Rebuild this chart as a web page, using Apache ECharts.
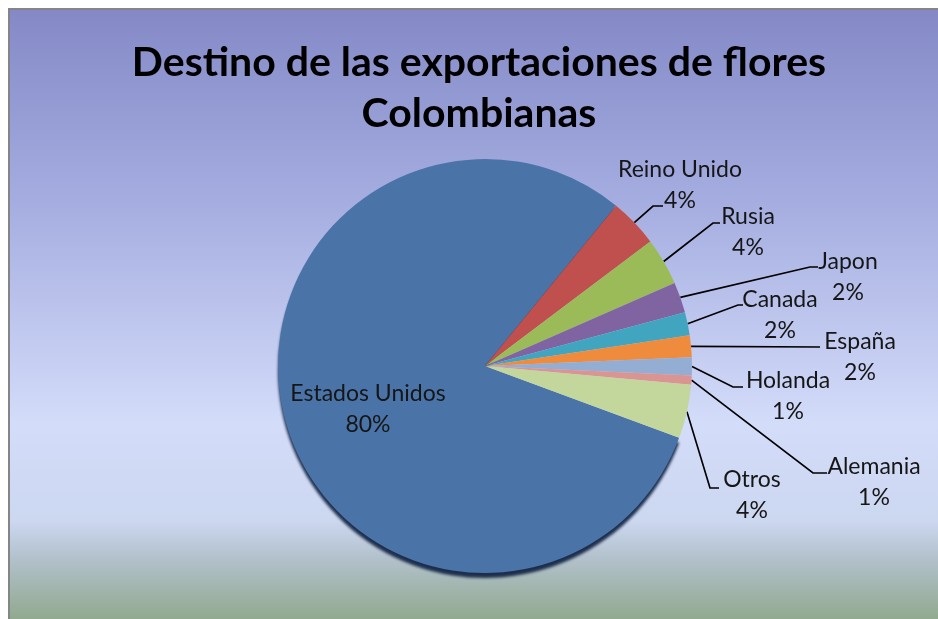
<!DOCTYPE html>
<html>
<head>
<meta charset="utf-8">
<script src="https://cdn.jsdelivr.net/npm/echarts@6/dist/echarts.min.js"></script>
<style>
html,body{margin:0;padding:0;background:#fff;}
#chart{width:938px;height:619px;}
</style>
</head>
<body>
<div id="chart"></div>
<script>
// ---- data ----
var categories = ['Estados Unidos', 'Reino Unido', 'Rusia', 'Japon', 'Canada', 'España', 'Holanda', 'Alemania', 'Otros'];
var shares = [80.2, 3.8, 3.7, 2.4, 1.8, 1.7, 1.4, 0.7, 4.2];
var sliceColors = ['#4a74a8', '#c0504d', '#9bbb59', '#8064a2', '#42a5bf', '#ee8b3d', '#94add3', '#da9593', '#c3d69b'];

// label block centres and leader-line elbows (layout only)
var labelCenters = [[368,409],[680,185],[748,232],[848,277],[780,315],[860,357],[788,396],[874,482],[752,495]];
var leaderElbows = [
  null,
  [[653,206],[663,206]],
  [[713,223],[720,223]],
  [[810,267],[818,267]],
  [[738,305],[743,305]],
  [[820,347]],
  [[733,387],[743,387]],
  [[813,473],[827,473]],
  [[710,488],[719,488]]
];

var chart = echarts.init(document.getElementById('chart'), null, {renderer:'canvas'});

var pieData = categories.map(function (name, i) {
  var item = { name: name, value: shares[i], itemStyle: { color: sliceColors[i] } };
  if (name === 'Estados Unidos') {
    item.label = { position: 'inside' };
    item.labelLine = { show: false };
    item.itemStyle.shadowColor = 'rgba(20,38,70,0.95)';
    item.itemStyle.shadowBlur = 3;
    item.itemStyle.shadowOffsetY = 5;
  }
  return item;
});

var option = {
  backgroundColor: '#ffffff',
  animation: false,
  graphic: [
    {
      type: 'rect', z: -10, silent: true,
      shape: { x: 8, y: 8, width: 930, height: 611 },
      style: {
        fill: new echarts.graphic.LinearGradient(0, 0, 0, 1, [
          { offset: 0, color: '#8489c6' },
          { offset: 0.3, color: '#a3abdf' },
          { offset: 0.68, color: '#d3dcf9' },
          { offset: 0.84, color: '#ccd7f0' },
          { offset: 0.9, color: '#b3c1cc' },
          { offset: 1, color: '#91a98f' }
        ])
      }
    },
    { type: 'line', z: -9, silent: true, shape: { x1: 8, y1: 9, x2: 938, y2: 9 }, style: { stroke: '#858585', lineWidth: 2 } },
    { type: 'line', z: -9, silent: true, shape: { x1: 9, y1: 8, x2: 9, y2: 619 }, style: { stroke: '#858585', lineWidth: 2 } }
  ],
  title: {
    text: 'Destino de las exportaciones de flores\nColombianas',
    left: 479,
    top: 37,
    padding: 0,
    textAlign: 'center',
    textStyle: {
      fontFamily: 'Lato',
      fontWeight: 'bold',
      fontSize: 41,
      lineHeight: 51,
      color: '#000000'
    }
  },
  series: [{
    type: 'pie',
    center: [485, 366],
    radius: 207,
    startAngle: 339.7,
    clockwise: true,
    avoidLabelOverlap: false,
    data: pieData,
    itemStyle: { borderWidth: 0 },
    label: {
      show: true,
      position: 'outside',
      fontFamily: 'Lato',
      fontSize: 23,
      lineHeight: 31,
      color: '#161616',
      formatter: function (p) { return p.name + '\n' + Math.round(p.percent) + '%'; }
    },
    labelLine: {
      show: true,
      lineStyle: { color: '#000000', width: 1.7 }
    },
    labelLayout: function (params) {
      var i = params.dataIndex;
      var c = labelCenters[i];
      var res = { x: c[0], y: c[1], align: 'center', verticalAlign: 'middle' };
      if (leaderElbows[i] && params.labelLinePoints) {
        res.labelLinePoints = [params.labelLinePoints[0]].concat(leaderElbows[i]);
      }
      return res;
    }
  }]
};
chart.setOption(option);
</script>
</body>
</html>
